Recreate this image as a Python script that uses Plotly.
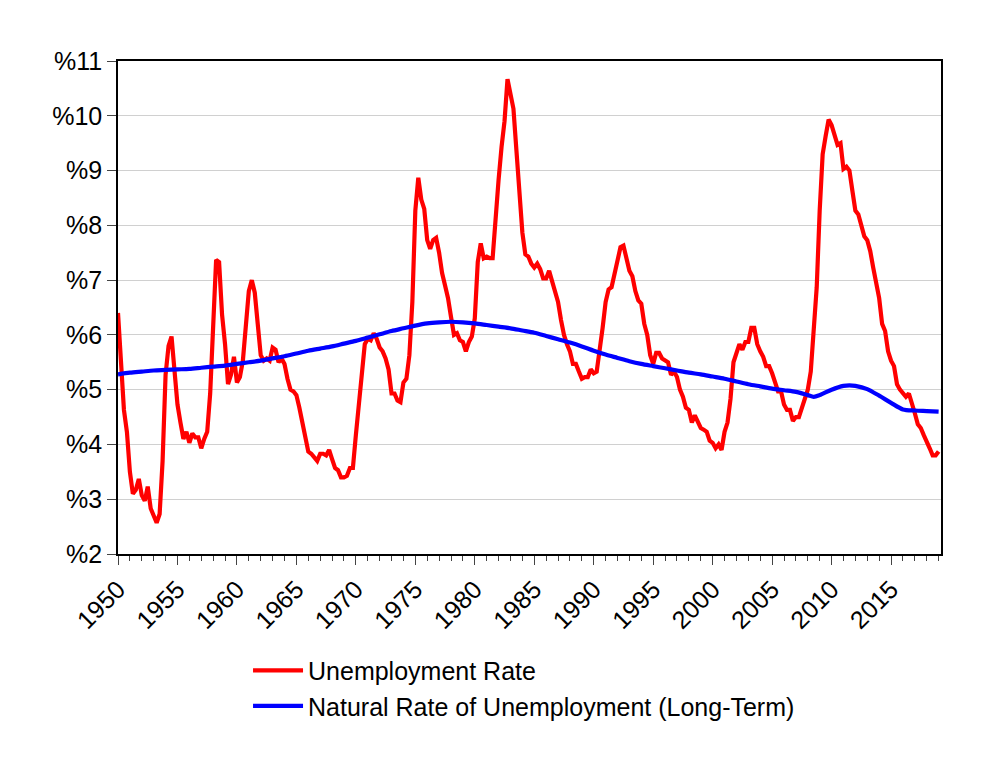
import plotly.graph_objects as go

# quarterly unemployment rate, 1950Q1 .. 2019Q1 (one row per year)
unrate = [
    6.40, 5.57, 4.63, 4.23,   # 1950
    3.50, 3.10, 3.17, 3.37,   # 1951
    3.07, 2.97, 3.23, 2.83,   # 1952
    2.70, 2.57, 2.73, 3.70,   # 1953
    5.27, 5.80, 5.97, 5.33,   # 1954
    4.73, 4.40, 4.10, 4.23,   # 1955
    4.03, 4.20, 4.13, 4.13,   # 1956
    3.93, 4.10, 4.23, 4.93,   # 1957
    6.30, 7.37, 7.33, 6.37,   # 1958
    5.83, 5.10, 5.27, 5.60,   # 1959
    5.13, 5.23, 5.53, 6.27,   # 1960
    6.80, 7.00, 6.77, 6.20,   # 1961
    5.63, 5.53, 5.57, 5.53,   # 1962
    5.77, 5.73, 5.50, 5.57,   # 1963
    5.47, 5.20, 5.00, 4.97,   # 1964
    4.90, 4.67, 4.37, 4.10,   # 1965
    3.87, 3.83, 3.77, 3.70,   # 1966
    3.83, 3.83, 3.80, 3.90,   # 1967
    3.73, 3.57, 3.53, 3.40,   # 1968
    3.40, 3.43, 3.57, 3.57,   # 1969
    4.17, 4.77, 5.17, 5.83,   # 1970
    5.93, 5.90, 6.03, 5.93,   # 1971
    5.77, 5.70, 5.57, 5.37,   # 1972
    4.93, 4.93, 4.80, 4.77,   # 1973
    5.13, 5.20, 5.63, 6.60,   # 1974
    8.27, 8.87, 8.47, 8.30,   # 1975
    7.73, 7.57, 7.73, 7.77,   # 1976
    7.50, 7.13, 6.90, 6.67,   # 1977
    6.33, 6.00, 6.03, 5.90,   # 1978
    5.87, 5.70, 5.87, 5.97,   # 1979
    6.30, 7.33, 7.67, 7.40,   # 1980
    7.43, 7.40, 7.40, 8.23,   # 1981
    8.83, 9.43, 9.90, 10.67,  # 1982
    10.37, 10.13, 9.37, 8.53, # 1983
    7.87, 7.47, 7.43, 7.30,   # 1984
    7.23, 7.30, 7.20, 7.03,   # 1985
    7.03, 7.17, 6.97, 6.83,   # 1986
    6.60, 6.27, 6.00, 5.83,   # 1987
    5.70, 5.47, 5.47, 5.33,   # 1988
    5.20, 5.23, 5.23, 5.37,   # 1989
    5.30, 5.33, 5.70, 6.13,   # 1990
    6.60, 6.83, 6.87, 7.10,   # 1991
    7.37, 7.60, 7.63, 7.37,   # 1992
    7.17, 7.07, 6.80, 6.63,   # 1993
    6.57, 6.20, 6.00, 5.63,   # 1994
    5.47, 5.67, 5.67, 5.57,   # 1995
    5.53, 5.50, 5.27, 5.33,   # 1996
    5.23, 5.00, 4.87, 4.67,   # 1997
    4.63, 4.40, 4.53, 4.43,   # 1998
    4.30, 4.27, 4.23, 4.07,   # 1999
    4.03, 3.93, 4.00, 3.90,   # 2000
    4.23, 4.40, 4.83, 5.50,   # 2001
    5.70, 5.83, 5.73, 5.87,   # 2002
    5.87, 6.13, 6.13, 5.83,   # 2003
    5.70, 5.60, 5.43, 5.43,   # 2004
    5.30, 5.10, 4.97, 4.97,   # 2005
    4.73, 4.63, 4.63, 4.43,   # 2006
    4.50, 4.50, 4.67, 4.83,   # 2007
    5.00, 5.33, 6.00, 6.87,   # 2008
    8.27, 9.30, 9.63, 9.93,   # 2009
    9.83, 9.63, 9.47, 9.50,   # 2010
    9.03, 9.07, 9.00, 8.63,   # 2011
    8.27, 8.20, 8.03, 7.80,   # 2012
    7.73, 7.53, 7.23, 6.93,   # 2013
    6.67, 6.20, 6.07, 5.70,   # 2014
    5.53, 5.43, 5.10, 5.00,   # 2015
    4.93, 4.87, 4.93, 4.77,   # 2016
    4.57, 4.37, 4.30, 4.17,   # 2017
    4.07, 3.93, 3.80, 3.80,   # 2018
    3.87,                     # 2019
]
unrate_dates = [1950 + i / 4 for i in range(len(unrate))]

# natural rate (long-term), read roughly once a year
nrou_dates = [1950, 1951, 1952, 1953, 1954, 1955, 1956, 1957, 1958, 1959,
              1960, 1961, 1962, 1963, 1964, 1965, 1966, 1967, 1968, 1969,
              1970, 1971, 1972, 1973, 1974, 1975, 1976, 1977, 1978, 1979,
              1980, 1981, 1982, 1983, 1984, 1985, 1986, 1987, 1988, 1989,
              1990, 1991, 1992, 1993, 1994, 1995, 1996, 1997, 1998, 1999,
              2000, 2001, 2002, 2003, 2004, 2005, 2006, 2007, 2008, 2008.5,
              2009, 2010, 2011, 2011.5, 2012, 2013, 2014, 2015, 2016, 2017,
              2018, 2019]
nrou = [5.28, 5.31, 5.33, 5.35, 5.36, 5.37, 5.38, 5.40, 5.42, 5.44,
        5.47, 5.50, 5.53, 5.57, 5.61, 5.66, 5.71, 5.75, 5.79, 5.84,
        5.89, 5.95, 6.01, 6.07, 6.12, 6.17, 6.21, 6.23, 6.24, 6.23,
        6.21, 6.18, 6.15, 6.12, 6.08, 6.04, 5.98, 5.92, 5.86, 5.79,
        5.71, 5.64, 5.58, 5.52, 5.47, 5.43, 5.39, 5.35, 5.31, 5.28,
        5.24, 5.20, 5.15, 5.10, 5.06, 5.02, 4.99, 4.96, 4.90, 4.87,
        4.90, 5.00, 5.07, 5.08, 5.07, 5.01, 4.89, 4.76, 4.64, 4.62,
        4.61, 4.60]

y_ticks = list(range(2, 12))
y_labels = ["%" + str(v) for v in y_ticks]
x_ticks = list(range(1950, 2016, 5))

font = "Liberation Sans, Arial, sans-serif"

fig = go.Figure()

fig.add_trace(go.Scatter(
    x=unrate_dates, y=unrate,
    mode="lines",
    name="Unemployment Rate",
    line=dict(color="#ff0000", width=4.2),
))

fig.add_trace(go.Scatter(
    x=nrou_dates, y=nrou,
    mode="lines",
    name="Natural Rate of Unemployment (Long-Term)",
    line=dict(color="#0000ff", width=4.2, shape="spline", smoothing=0.8),
))

fig.update_layout(
    width=1000, height=776,
    margin=dict(l=110, r=67, t=53, b=230),
    paper_bgcolor="white",
    plot_bgcolor="white",
    font=dict(family=font, size=25, color="black"),
    showlegend=True,
    legend=dict(
        x=0.158, y=-0.19, xanchor="left", yanchor="top",
        bgcolor="rgba(0,0,0,0)",
        font=dict(family=font, size=25, color="black"),
        tracegroupgap=0, itemwidth=50,
    ),
    xaxis=dict(
        range=[1950, 2019.2],
        tickmode="array", tickvals=x_ticks, ticktext=[str(t) for t in x_ticks],
        tickangle=-45,
        ticks="outside", ticklen=9, tickcolor="#444444", tickwidth=1,
        minor=dict(dtick=1, tick0=1950, ticks="outside", ticklen=5,
                   tickcolor="#444444", showgrid=False),
        showgrid=False, zeroline=False,
        showline=True, linecolor="black", linewidth=1.5, mirror=True,
        tickfont=dict(family=font, size=25, color="black"),
    ),
    yaxis=dict(
        range=[2, 11],
        tickmode="array", tickvals=y_ticks, ticktext=y_labels,
        ticks="outside", ticklen=9, tickcolor="#444444", tickwidth=1,
        showgrid=True, gridcolor="#d0d0d0", gridwidth=1.2,
        zeroline=False,
        showline=True, linecolor="black", linewidth=1.5, mirror=True,
        tickfont=dict(family=font, size=25, color="black"),
    ),
)

fig.write_html("out.html")
